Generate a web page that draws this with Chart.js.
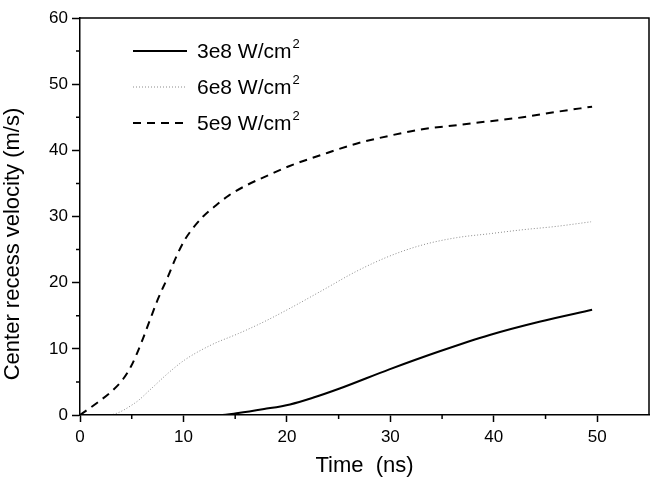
<!DOCTYPE html>
<html>
<head>
<meta charset="utf-8">
<script src="https://cdn.jsdelivr.net/npm/chart.js@4.4.0/dist/chart.umd.min.js"></script>
<style>
  body { margin: 0; background: #fff; }
  #wrap { width: 655px; height: 481px; position: relative; }
</style>
</head>
<body>
<div id="wrap"><canvas id="chart"></canvas></div>
<script>
// Series data (time in ns, velocity in m/s)
const labels3e8 = "3e8 W/cm";
const labels6e8 = "6e8 W/cm";
const labels5e9 = "5e9 W/cm";

const t3e8 = [0, 5, 10, 13.5, 15.3, 17.8, 20.3, 22.5, 25.1, 29.9, 34.7, 39.6, 44.4, 49.5];
const v3e8 = [0, 0, 0, 0, 0.3, 0.9, 1.6, 2.6, 4.0, 6.9, 9.6, 12.1, 14.1, 15.9];

const t6e8 = [0, 2.7, 5.3, 6.9, 8.5, 10.1, 12.7, 15.3, 17.8, 20.5, 23.5, 26.7, 29.9, 33.1, 36.4, 39.6, 42.8, 46.0, 49.4];
const v6e8 = [0, 0, 1.8, 4.0, 6.3, 8.3, 10.6, 12.3, 14.1, 16.3, 18.9, 21.7, 24.0, 25.7, 26.8, 27.4, 28.0, 28.5, 29.2];

const t5e9 = [0, 1.7, 3.0, 4.15, 4.95, 5.9, 6.7, 7.5, 8.5, 9.3, 10.1, 10.9, 11.9, 13.0, 14.4, 16.2, 18.3, 20.2, 23.5, 26.7, 29.9, 33.1, 36.4, 39.6, 42.8, 46.0, 49.5];
const v5e9 = [0, 1.9, 3.5, 5.4, 7.4, 10.8, 14.1, 17.4, 20.9, 23.9, 26.4, 28.2, 30.0, 31.5, 33.2, 34.8, 36.3, 37.6, 39.4, 41.0, 42.2, 43.2, 43.8, 44.4, 45.0, 45.8, 46.6];

const xMajor = [0, 10, 20, 30, 40, 50];
const xMinor = [5, 15, 25, 35, 45];
const yMajor = [0, 10, 20, 30, 40, 50, 60];
const yMinor = [5, 15, 25, 35, 45, 55];

const FONT = "'Liberation Sans', Arial, sans-serif";

function pts(ts, vs) { return ts.map((t, i) => ({ x: t, y: vs[i] })); }

// Frame, minor ticks and in-plot legend
const extras = {
  id: "extras",
  afterDraw(chart) {
    const ctx = chart.ctx;
    const a = chart.chartArea;
    const xs = chart.scales.x, ys = chart.scales.y;
    ctx.save();
    ctx.strokeStyle = "#000";
    ctx.lineWidth = 1.5;
    ctx.beginPath();
    ctx.moveTo(a.left, a.top); ctx.lineTo(a.right, a.top); ctx.lineTo(a.right, a.bottom);
    xMinor.forEach(v => { const p = xs.getPixelForValue(v); ctx.moveTo(p, a.bottom); ctx.lineTo(p, a.bottom + 4); });
    yMinor.forEach(v => { const p = ys.getPixelForValue(v); ctx.moveTo(a.left, p); ctx.lineTo(a.left - 4, p); });
    ctx.stroke();

    // legend
    const x0 = 133, x1 = 187, tx = 197;
    const rows = [51, 87, 123];
    chart.data.datasets.forEach((ds, i) => {
      const y = rows[i];
      ctx.strokeStyle = ds.borderColor;
      ctx.lineWidth = ds.borderWidth;
      ctx.setLineDash(ds.borderDash || []);
      ctx.beginPath(); ctx.moveTo(x0, y); ctx.lineTo(x1, y); ctx.stroke();
      ctx.setLineDash([]);
      ctx.fillStyle = "#000";
      ctx.font = "21px " + FONT;
      ctx.textBaseline = "middle";
      ctx.textAlign = "left";
      ctx.fillText(ds.label, tx, y + 1);
      const w = ctx.measureText(ds.label).width;
      ctx.font = "13px " + FONT;
      ctx.fillText("2", tx + w + 1, y - 7);
    });
    ctx.restore();
  }
};

new Chart(document.getElementById("chart"), {
  type: "line",
  data: {
    datasets: [
      { label: labels3e8, data: pts(t3e8, v3e8), borderColor: "#000", borderWidth: 2, borderDash: [] },
      { label: labels6e8, data: pts(t6e8, v6e8), borderColor: "#8a8a8a", borderWidth: 1, borderDash: [1, 2] },
      { label: labels5e9, data: pts(t5e9, v5e9), borderColor: "#000", borderWidth: 2, borderDash: [8, 6] }
    ]
  },
  options: {
    responsive: true,
    maintainAspectRatio: false,
    animation: false,
    layout: { padding: { top: 18, right: 6, left: 0, bottom: 0 } },
    elements: {
      point: { radius: 0 },
      line: { cubicInterpolationMode: "monotone", fill: false }
    },
    plugins: { legend: { display: false }, tooltip: { enabled: false } },
    scales: {
      x: {
        type: "linear", min: 0, max: 55,
        afterBuildTicks: s => { s.ticks = xMajor.map(v => ({ value: v })); },
        afterFit: s => { s.height = 66; },
        grid: { drawOnChartArea: false, drawTicks: true, tickLength: 7, color: "#000", tickWidth: 1.5 },
        border: { display: true, color: "#000", width: 1.5 },
        ticks: { color: "#000", font: { family: FONT, size: 17 }, padding: 5, maxRotation: 0 },
        title: { display: true, text: "Time  (ns)", color: "#000", font: { family: FONT, size: 22 }, padding: { top: 0, bottom: 2 } }
      },
      y: {
        type: "linear", min: 0, max: 60,
        afterBuildTicks: s => { s.ticks = yMajor.map(v => ({ value: v })); },
        afterFit: s => { s.width = 80; },
        grid: { drawOnChartArea: false, drawTicks: true, tickLength: 8, color: "#000", tickWidth: 1.5 },
        border: { display: true, color: "#000", width: 1.5 },
        ticks: { color: "#000", font: { family: FONT, size: 17 }, padding: 4 },
        title: { display: true, text: "Center recess velocity (m/s)" + "\u00a0".repeat(9), color: "#000", font: { family: FONT, size: 22 }, padding: { top: 0, bottom: 0 } }
      }
    }
  },
  plugins: [extras]
});
</script>
</body>
</html>
